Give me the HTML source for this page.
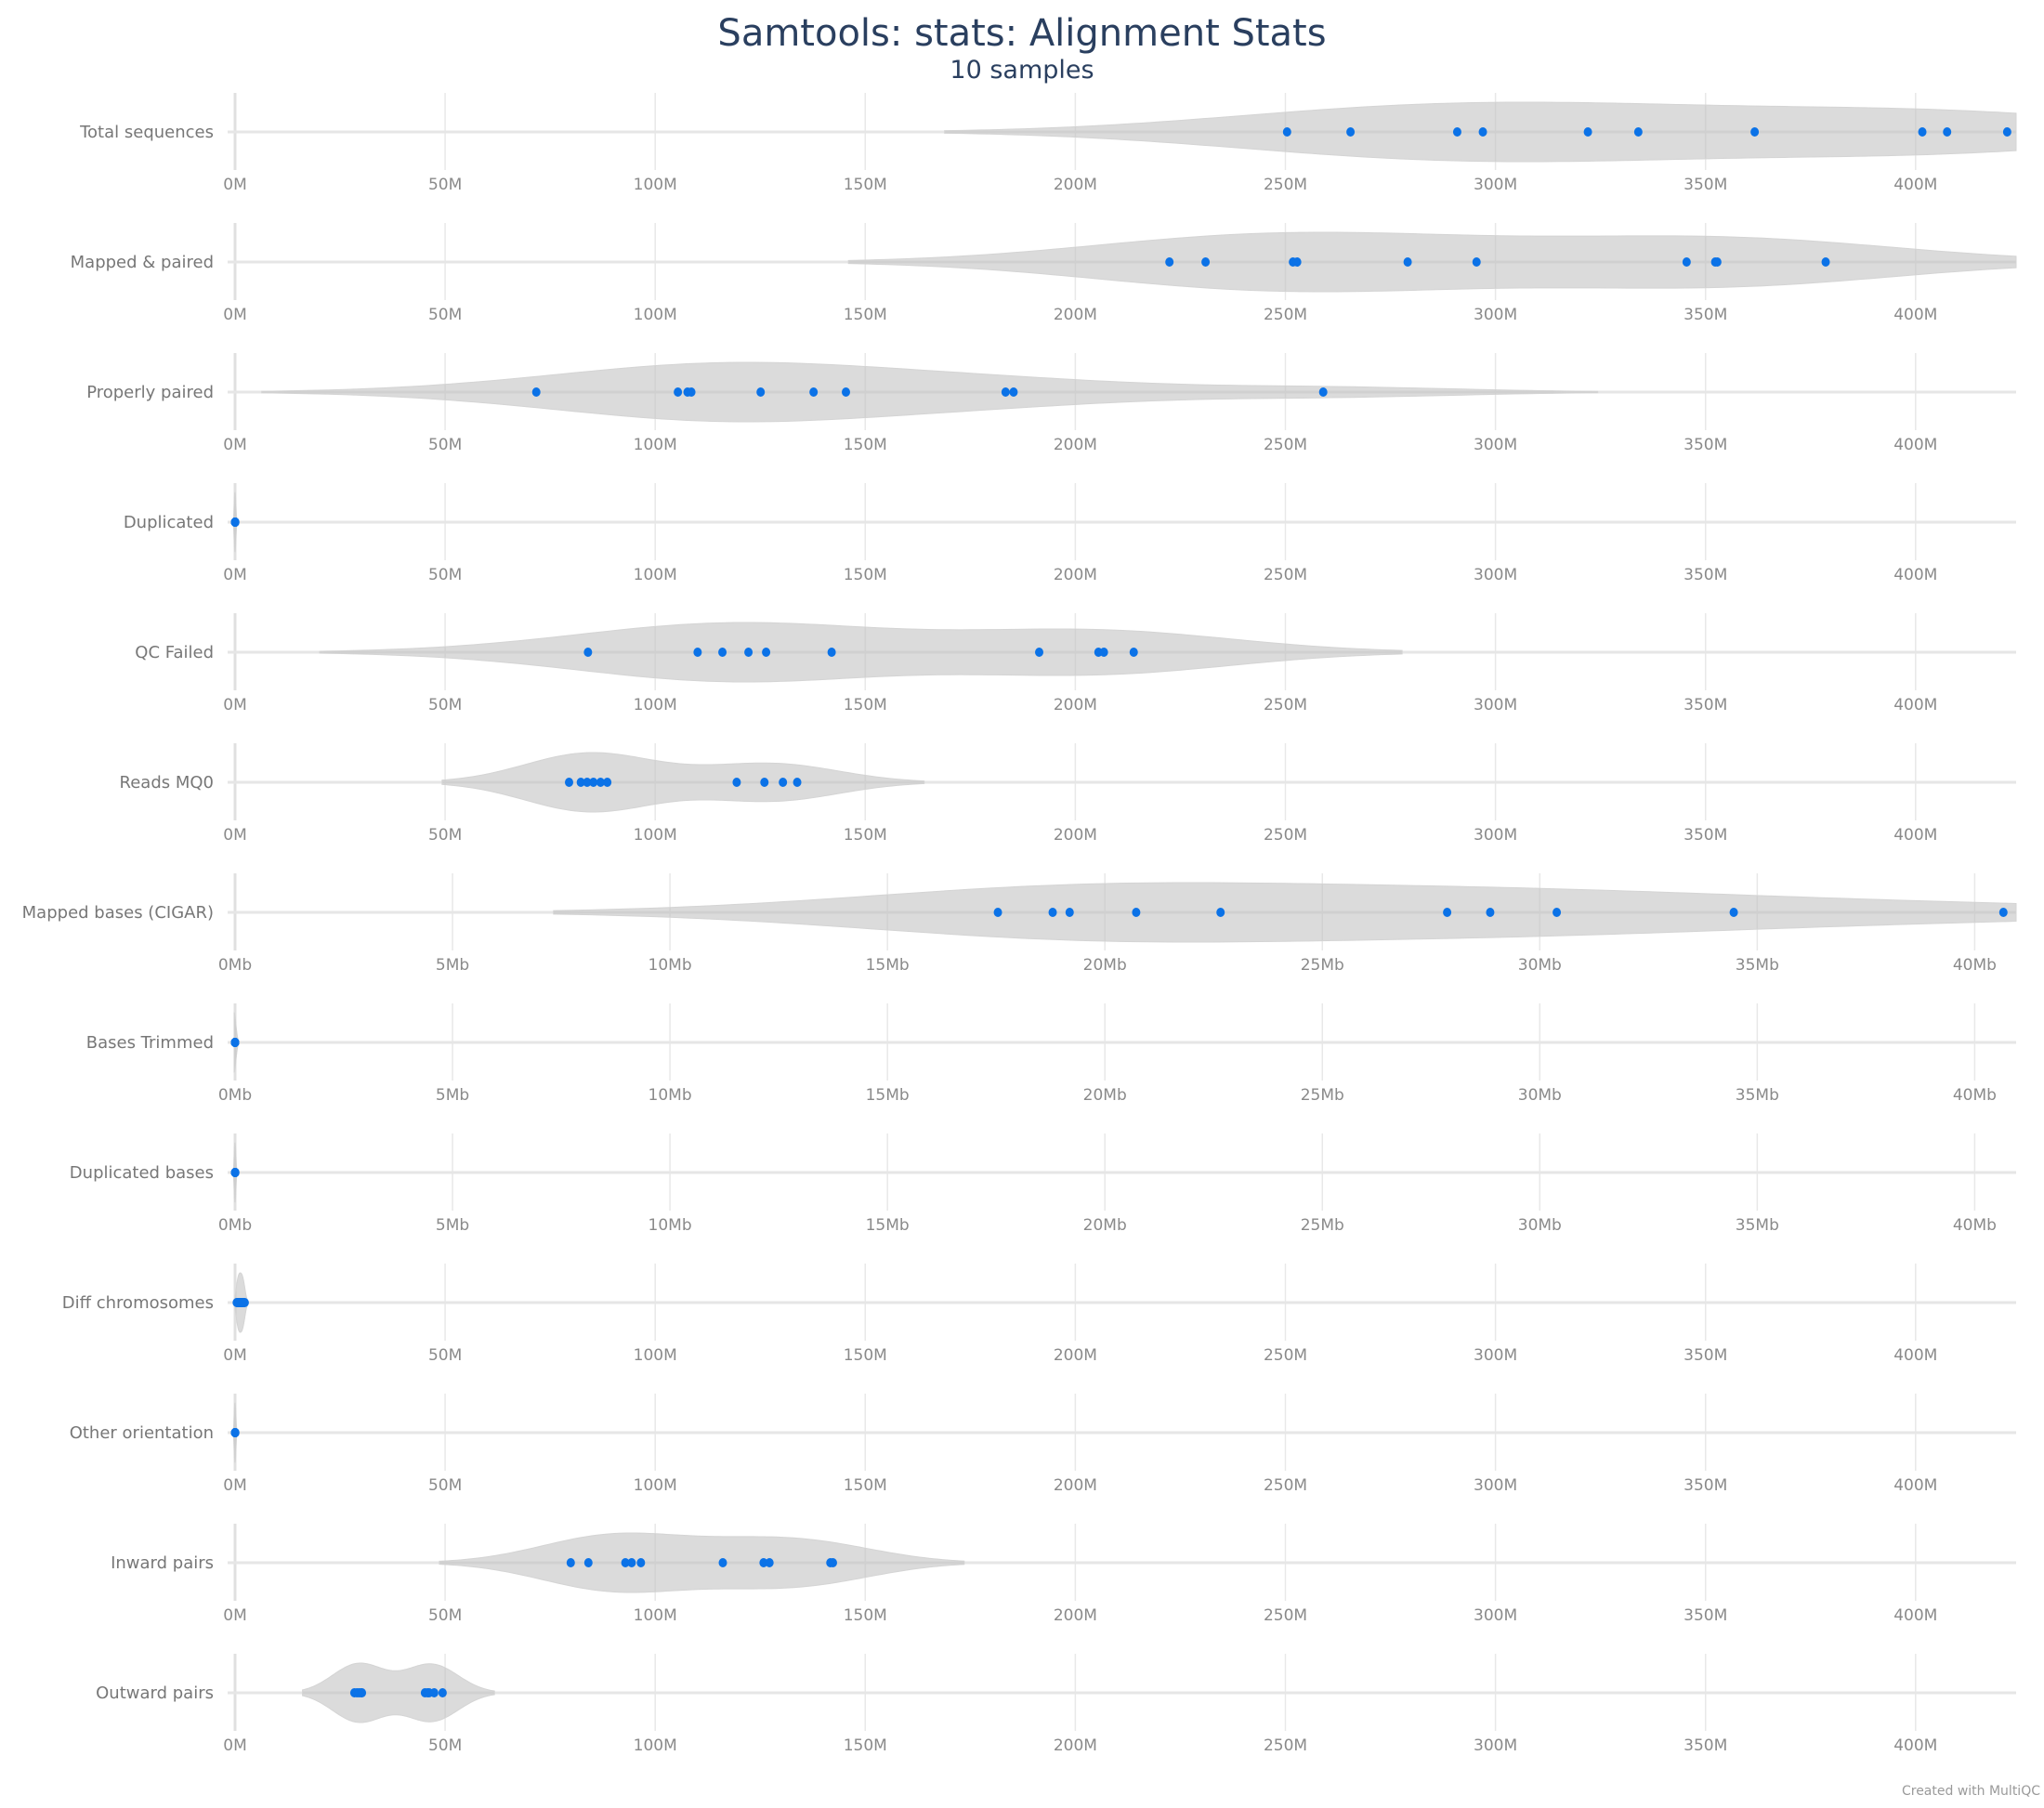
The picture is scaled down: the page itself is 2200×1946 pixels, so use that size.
<!DOCTYPE html>
<html><head><meta charset="utf-8"><style>
body{margin:0;background:#fff;}
svg{display:block;}
text{font-family:"DejaVu Sans","Liberation Sans",sans-serif;}
</style></head><body>
<svg id="chart" width="2200" height="1946" viewBox="0 0 2200 1946">
<text x="1100" y="49" text-anchor="middle" font-size="40" fill="#2a3f5f">Samtools: stats: Alignment Stats</text>
<text x="1100" y="84" text-anchor="middle" font-size="27" fill="#2a3f5f">10 samples</text>
<text x="2196" y="1932" text-anchor="end" font-size="14" fill="#9a9a9a">Created with MultiQC</text>
<g id="rows"></g>
</svg>
<script>
const rowLabels = ["Total sequences","Mapped & paired","Properly paired","Duplicated","QC Failed","Reads MQ0","Mapped bases (CIGAR)","Bases Trimmed","Duplicated bases","Diff chromosomes","Other orientation","Inward pairs","Outward pairs"];
const rowUnits = ["M","M","M","M","M","M","Mb","Mb","Mb","M","M","M","M"];
const totalSeq = [250.4,265.5,290.9,297,322,334,361.7,401.6,407.5,421.8];
const mappedPaired = [222.4,231,251.8,252.8,279.1,295.5,345.5,352.3,352.8,378.6];
const properlyPaired = [71.7,105.4,107.7,108.6,125.1,137.7,145.4,183.4,185.3,259];
const duplicated = [0.01,0.012,0.015,0.018,0.02,0.022,0.025,0.028,0.03,0.035];
const qcFailed = [84,110.1,116,122.2,126.4,142,191.4,205.5,206.8,213.9];
const readsMQ0 = [79.5,82.3,83.8,85.3,87,88.6,119.4,126,130.4,133.8];
const mappedBases = [17.54,18.8,19.19,20.72,22.66,27.87,28.86,30.39,34.46,40.66];
const basesTrimmed = [0,0,0,0,0,0,0,0,0,0];
const duplicatedBases = [0.001,0.0012,0.0015,0.0018,0.002,0.0022,0.0025,0.0028,0.003,0.0035];
const diffChrom = [0.4,0.6,0.8,1.0,1.2,1.4,1.6,1.8,2.0,2.3];
const otherOrient = [0.01,0.012,0.015,0.018,0.02,0.022,0.025,0.028,0.03,0.035];
const inwardPairs = [79.9,84.1,92.9,94.4,96.6,116.1,125.8,127.2,141.7,142.3];
const outwardPairs = [28.4,29,29.5,30,30.2,45.2,45.8,46.2,47.4,49.4];
const rowValues = [totalSeq,mappedPaired,properlyPaired,duplicated,qcFailed,readsMQ0,mappedBases,basesTrimmed,duplicatedBases,diffChrom,otherOrient,inwardPairs,outwardPairs];
const ticksM = [0,50,100,150,200,250,300,350,400];
const ticksMb = [0,5,10,15,20,25,30,35,40];

const NS="http://www.w3.org/2000/svg";
const X0=253, X1=2170, ROW0=142, ROWH=140, HALF=32;
const scales={M:{max:(X1-X0)/226.1*50,ticks:ticksM},Mb:{max:(X1-X0)/46.81,ticks:ticksMb}};
function xScale(unit,v){return X0+v/scales[unit].max*(X1-X0);}
function mk(tag,attrs,parent){const e=document.createElementNS(NS,tag);for(const k in attrs)e.setAttribute(k,attrs[k]);parent.appendChild(e);return e;}
function bandwidth(vals){
  const n=vals.length,m=vals.reduce((a,b)=>a+b,0)/n;
  const sd=Math.sqrt(vals.reduce((a,b)=>a+(b-m)*(b-m),0)/(n-1));
  const s=[...vals].sort((a,b)=>a-b);
  const q=p=>{const i=(n-1)*p,lo=Math.floor(i);return s[lo]+(s[Math.min(lo+1,n-1)]-s[lo])*(i-lo);};
  const iqr=(q(0.75)-q(0.25))/1.349;
  let a=iqr>0?Math.min(sd,iqr):sd;
  return 1.059*a*Math.pow(n,-0.2);
}
const root=document.getElementById('rows');
rowLabels.forEach((label,i)=>{
  const unit=rowUnits[i], vals=rowValues[i], cy=ROW0+i*ROWH;
  const g=mk('g',{},root);
  
  
  scales[unit].ticks.forEach(t=>{
    const x=xScale(unit,t);
    const gl=mk('line',{x1:x,x2:x,y1:cy-42,y2:cy+41,stroke:t===0?'#e0e0e0':'#e8e8e8','stroke-width':t===0?3:1.5},g);
    
    
    const tl=mk('text',{x:x,y:cy+62,'text-anchor':'middle','font-size':17,fill:'#8a8a8a'},g);
    tl.textContent=t+unit;
    
    
  });
  const zl=mk('line',{x1:X0-8,x2:X1,y1:cy,y2:cy,stroke:'#e6e6e6','stroke-width':3},g);
  
  
  const lab=mk('text',{x:230,y:cy+6,'text-anchor':'end','font-size':18,fill:'#777'},g);
  lab.textContent=label;
  
  
  let bw=bandwidth(vals);
  const mx=Math.max(...vals), mn=Math.min(...vals);
  if(!(bw>0)) bw=scales[unit].max*0.0005;
  let lo=mn-2*bw, hi=mx+2*bw;
  lo=Math.max(lo,0); hi=Math.min(hi,scales[unit].max);
  const N=120, xs=[], ds=[];
  for(let k=0;k<=N;k++){const v=lo+(hi-lo)*k/N;let d=0;vals.forEach(p=>{const z=(v-p)/bw;d+=Math.exp(-0.5*z*z);});xs.push(v);ds.push(d);}
  const dmax=Math.max(...ds);
  let px0=xScale(unit,lo),px1=xScale(unit,hi);
  let widen=0; if(px1-px0<4){widen=(4-(px1-px0))/2;}
  let top=[],bot=[];
  xs.forEach((v,k)=>{
    let x=xScale(unit,v); x=px0-widen+(x-px0)*((px1-px0+2*widen)/Math.max(px1-px0,1e-9));
    if(px1-px0<1e-6) x=px0-widen+(k/N)*2*widen;
    const h=ds[k]/dmax*HALF; top.push(x.toFixed(2)+','+(cy-h).toFixed(2)); bot.unshift(x.toFixed(2)+','+(cy+h).toFixed(2));
  });
  const vp=mk('polygon',{points:top.concat(bot).join(' '),fill:'#bdbdbd','fill-opacity':0.55,stroke:'#d4d4d4','stroke-width':1},g);
  
  
  vals.forEach(v=>{
    const c=mk('ellipse',{cx:xScale(unit,v),cy:cy,rx:4.5,ry:5,fill:'#0b72e7'},g);
    
    
  });
});
</script>
</body></html>
